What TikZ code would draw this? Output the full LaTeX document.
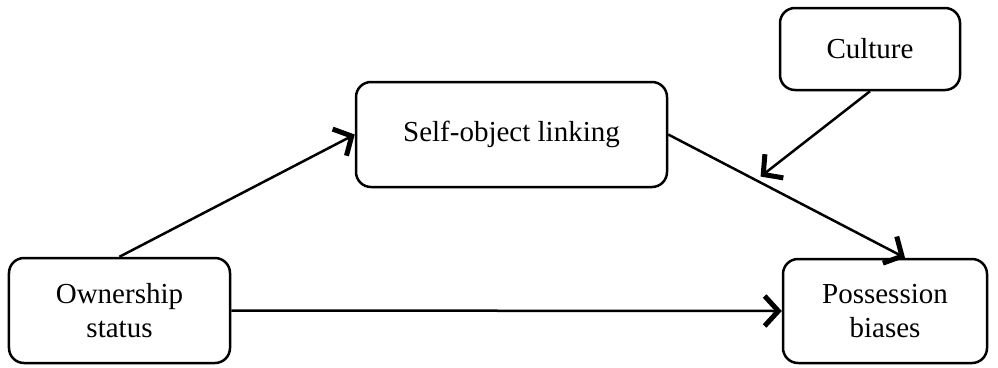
\documentclass[tikz,border=0pt]{standalone}
\usepackage{fontspec}
\setmainfont{Liberation Serif}
\usetikzlibrary{arrows.meta,calc}

\tikzset{
  caja/.style={draw, line width=1pt, rounded corners=6pt, align=center,
    font=\fontsize{11.6}{13.5}\selectfont, inner sep=0pt},
  flecha/.style={line width=1pt,
    -{Straight Barb[length=5.5pt,width=12pt,line width=2pt]}}
}

\begin{document}
\begin{tikzpicture}[x=0.4pt,y=-0.4pt]

\useasboundingbox (0,0) rectangle (998,367);

% Cajas
\node[caja, minimum width=88.4pt, minimum height=42pt] (own) at (119.5,310.5) {Ownership\\status};
\node[caja, minimum width=124.4pt, minimum height=42pt] (self) at (511.5,134.5) {Self-object linking};
\node[caja, minimum width=72pt, minimum height=32.8pt] (cult) at (870,49) {Culture};
\node[caja, minimum width=81.6pt, minimum height=41.6pt] (poss) at (885,311) {Possession\\biases};

% Puntos de llegada
\coordinate (possin) at ([xshift=8pt]poss.north);
\coordinate (medio) at ($(self.east)!0.39!(possin)+(0,-6)$);

% Flechas
\draw[flecha] (own.north) -- (self.west);
\draw[flecha] (self.east) -- (possin);
\draw[flecha] (own.east) -- (poss.west);
\draw[flecha] (cult.south) -- (medio);

\end{tikzpicture}
\end{document}
